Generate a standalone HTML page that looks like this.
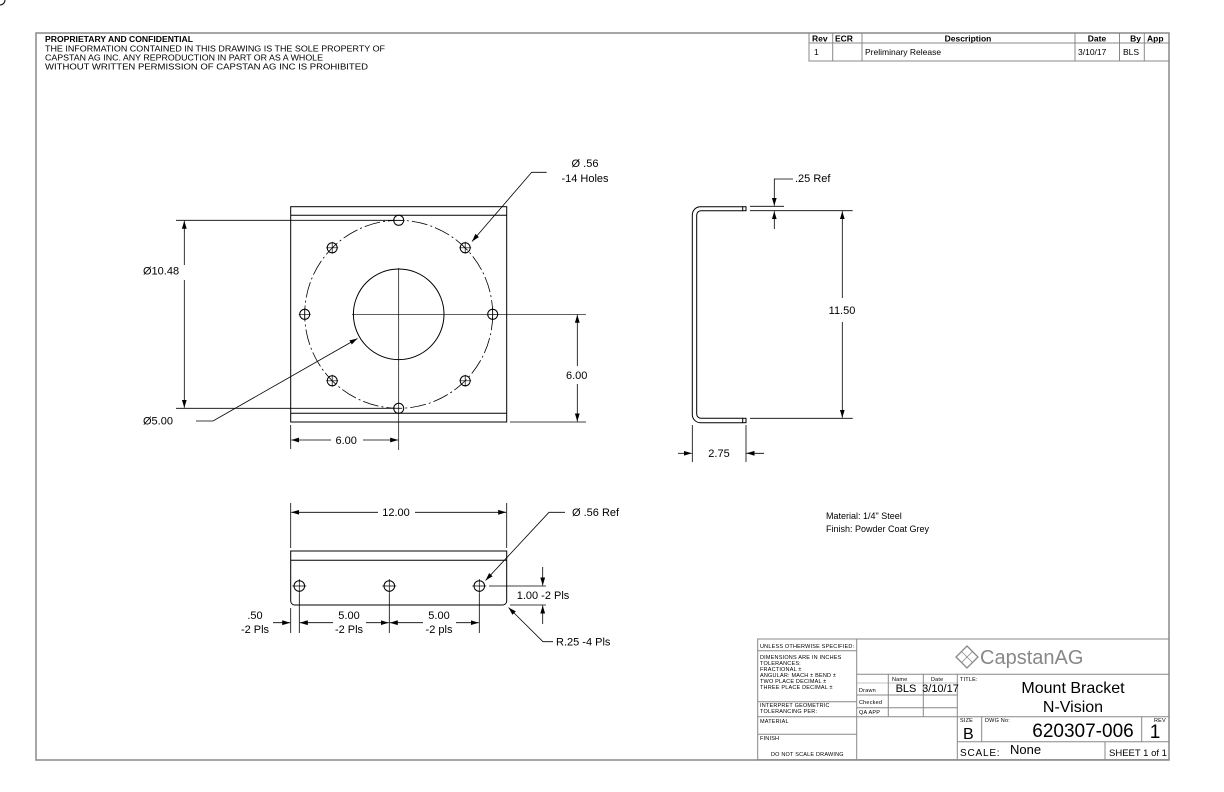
<!DOCTYPE html>
<html><head><meta charset="utf-8"><style>
html,body{margin:0;padding:0;background:#fff;}
svg{display:block;font-family:"Liberation Sans",sans-serif;}
.t{font-size:11px;fill:#000;}
.s{font-size:5.5px;fill:#000;letter-spacing:0.2px;}
</style></head><body>
<svg width="1224" height="792" viewBox="0 0 1224 792" xmlns="http://www.w3.org/2000/svg">
<defs>
<marker id="a" markerUnits="userSpaceOnUse" markerWidth="9" markerHeight="6" refX="8" refY="3" orient="auto"><path d="M0,0.6 L8,3 L0,5.4z" fill="#000"/></marker>
</defs>
<!-- frame -->
<rect x="36" y="33" width="1133" height="727" fill="none" stroke="#888" stroke-width="1.5"/>

<!-- proprietary text -->
<g font-size="8.6px" fill="#000">
<text x="45" y="42" font-weight="bold">PROPRIETARY AND CONFIDENTIAL</text>
<text x="45" y="51.5" textLength="340" lengthAdjust="spacingAndGlyphs">THE INFORMATION CONTAINED IN THIS DRAWING IS THE SOLE PROPERTY OF</text>
<text x="45" y="60.5" textLength="278" lengthAdjust="spacingAndGlyphs">CAPSTAN AG INC. ANY REPRODUCTION IN PART OR AS A WHOLE</text>
<text x="45" y="69.5" textLength="323" lengthAdjust="spacingAndGlyphs">WITHOUT WRITTEN PERMISSION OF CAPSTAN AG INC IS PROHIBITED</text>
</g>

<!-- revision table -->
<g stroke="#888" stroke-width="1" fill="none">
<rect x="809" y="33" width="360" height="28"/>
<line x1="809" y1="43" x2="1169" y2="43"/>
<line x1="832.7" y1="33" x2="832.7" y2="61"/>
<line x1="862" y1="33" x2="862" y2="61"/>
<line x1="1075" y1="33" x2="1075" y2="61"/>
<line x1="1119.5" y1="33" x2="1119.5" y2="61"/>
<line x1="1144.3" y1="33" x2="1144.3" y2="61"/>
</g>
<g font-size="8.5px" fill="#000">
<text x="812" y="41.5" font-weight="bold">Rev</text>
<text x="835" y="41.5" font-weight="bold">ECR</text>
<text x="968" y="41.5" font-weight="bold" text-anchor="middle">Description</text>
<text x="1097" y="41.5" font-weight="bold" text-anchor="middle">Date</text>
<text x="1141" y="41.5" font-weight="bold" text-anchor="end">By</text>
<text x="1147" y="41.5" font-weight="bold">App</text>
<text x="814" y="55">1</text>
<text x="865" y="55">Preliminary Release</text>
<text x="1078" y="55">3/10/17</text>
<text x="1123" y="55">BLS</text>
</g>

<!-- FRONT VIEW -->
<g stroke="#000" stroke-width="1" fill="none">
<rect x="290.7" y="206.7" width="216" height="215.3"/>
<line x1="290.7" y1="215.3" x2="506.7" y2="215.3"/>
<line x1="290.7" y1="413.3" x2="506.7" y2="413.3"/>
<circle cx="398.7" cy="314.3" r="94" stroke-dasharray="16 3 2 3" stroke-width="0.8"/>
<circle cx="398.7" cy="314.3" r="45.3"/>
<!-- holes -->
<g id="h">
<circle cx="0" cy="0" r="5"/>
</g>
<circle cx="398.7" cy="220.3" r="5"/><circle cx="398.7" cy="408.3" r="5"/>
<circle cx="304.7" cy="314.3" r="5"/><circle cx="492.7" cy="314.3" r="5"/>
<circle cx="465.2" cy="247.8" r="5"/><circle cx="332.2" cy="247.8" r="5"/>
<circle cx="465.2" cy="380.8" r="5"/><circle cx="332.2" cy="380.8" r="5"/>
<g stroke-width="0.7">
<path d="M326.2,247.8h12M332.2,241.8v12M459.2,247.8h12M465.2,241.8v12M326.2,380.8h12M332.2,374.8v12M459.2,380.8h12M465.2,374.8v12M298.7,314.3h12M304.7,308.3v12M486.7,314.3h12M492.7,308.3v12M392.7,220.3h12"/>
</g>
<!-- centerlines -->
<line x1="398.7" y1="268" x2="398.7" y2="450" stroke-width="0.7"/>
<line x1="352" y1="314.3" x2="586" y2="314.3" stroke-width="0.7"/>
<!-- dims -->
<line x1="176" y1="220.3" x2="395" y2="220.3" stroke-width="0.8"/>
<line x1="176" y1="408.3" x2="395" y2="408.3" stroke-width="0.8"/>
<line x1="184.3" y1="265" x2="184.3" y2="220.8" marker-end="url(#a)" stroke-width="0.8"/>
<line x1="184.3" y1="280" x2="184.3" y2="407.8" marker-end="url(#a)" stroke-width="0.8"/>
<line x1="510" y1="422" x2="586" y2="422" stroke-width="0.8"/>
<line x1="577.3" y1="366" x2="577.3" y2="314.8" marker-end="url(#a)" stroke-width="0.8"/>
<line x1="577.3" y1="384" x2="577.3" y2="421.5" marker-end="url(#a)" stroke-width="0.8"/>
<line x1="290.7" y1="425" x2="290.7" y2="449" stroke-width="0.8"/>
<line x1="331" y1="440" x2="291.2" y2="440" marker-end="url(#a)" stroke-width="0.8"/>
<line x1="363" y1="440" x2="398.2" y2="440" marker-end="url(#a)" stroke-width="0.8"/>
<polyline points="196,421 213,421 357.5,338.5" marker-end="url(#a)" stroke-width="0.8"/>
<polyline points="546.7,172.3 531.7,172.3 472,241.5" marker-end="url(#a)" stroke-width="0.8"/>
</g>
<text class="t" x="143" y="274.5">Ø10.48</text>
<text class="t" x="566" y="379">6.00</text>
<text class="t" x="335.5" y="444">6.00</text>
<text class="t" x="143" y="424.5">Ø5.00</text>
<text class="t" x="585" y="167" text-anchor="middle">Ø .56</text>
<text class="t" x="585" y="182" text-anchor="middle">-14 Holes</text>

<!-- SIDE VIEW -->
<g stroke="#000" stroke-width="1" fill="none">
<path d="M742.7,206.7 H700.5 A8.2,8.2 0 0 0 692.3,214.9 V414.5 A8.2,8.2 0 0 0 700.5,422.7 H742.7"/>
<path d="M742.7,210.7 H701 A4.3,4.3 0 0 0 696.7,215 V414 A4.3,4.3 0 0 0 701,418.3 H742.7"/>
<rect x="742.7" y="206.7" width="3.3" height="4"/>
<rect x="742.7" y="418.3" width="3.3" height="4.4"/>
<g stroke-width="0.8">
<line x1="750" y1="206.3" x2="784" y2="206.3"/>
<line x1="750" y1="210.7" x2="852.7" y2="210.7"/>
<line x1="750" y1="418.3" x2="852.7" y2="418.3"/>
<line x1="842.3" y1="298" x2="842.3" y2="211.2" marker-end="url(#a)"/>
<line x1="842.3" y1="322" x2="842.3" y2="417.8" marker-end="url(#a)"/>
<polyline points="793,179 774.3,179 774.3,205.8" marker-end="url(#a)"/>
<line x1="774.3" y1="229" x2="774.3" y2="211.2" marker-end="url(#a)"/>
<line x1="692.3" y1="425" x2="692.3" y2="462"/>
<line x1="746" y1="425" x2="746" y2="462"/>
<line x1="678" y1="453.3" x2="691.8" y2="453.3" marker-end="url(#a)"/>
<line x1="764" y1="453.3" x2="746.5" y2="453.3" marker-end="url(#a)"/>
</g>
</g>
<text class="t" x="795" y="182">.25 Ref</text>
<text class="t" x="842" y="314" text-anchor="middle">11.50</text>
<text class="t" x="719" y="457" text-anchor="middle">2.75</text>

<!-- BOTTOM VIEW -->
<g stroke="#000" stroke-width="1" fill="none">
<path d="M290.7,551 H506.7 V601 A4,4 0 0 1 502.7,605 H294.7 A4,4 0 0 1 290.7,601 Z"/>
<line x1="290.7" y1="560.3" x2="506.7" y2="560.3"/>
<circle cx="299.3" cy="586" r="5.3"/><circle cx="389.3" cy="586" r="5.3"/><circle cx="479.3" cy="586" r="5.3"/>
<g stroke-width="0.7">
<path d="M292.3,586h14M299.3,579v14M382.3,586h14M389.3,579v14M472.3,586h14M479.3,579v14"/>
</g>
<g stroke-width="0.8">
<line x1="290.7" y1="503" x2="290.7" y2="548"/>
<line x1="506.7" y1="503" x2="506.7" y2="548"/>
<line x1="378" y1="512.3" x2="291.2" y2="512.3" marker-end="url(#a)"/>
<line x1="415" y1="512.3" x2="506.2" y2="512.3" marker-end="url(#a)"/>
<polyline points="565,512.3 549,512.3 485.5,580.5" marker-end="url(#a)"/>
<line x1="489" y1="586" x2="546" y2="586"/>
<line x1="510" y1="605" x2="546" y2="605"/>
<line x1="542.7" y1="567" x2="542.7" y2="585.5" marker-end="url(#a)"/>
<line x1="542.7" y1="624" x2="542.7" y2="605.5" marker-end="url(#a)"/>
<polyline points="553,641.7 543,641.7 508.5,607.5" marker-end="url(#a)"/>
<line x1="290.7" y1="608" x2="290.7" y2="633"/>
<line x1="299.3" y1="593" x2="299.3" y2="633"/>
<line x1="389.3" y1="593" x2="389.3" y2="633"/>
<line x1="479.3" y1="593" x2="479.3" y2="633"/>
<line x1="273" y1="622.7" x2="290.2" y2="622.7" marker-end="url(#a)"/>
<line x1="333" y1="622.7" x2="299.8" y2="622.7" marker-end="url(#a)"/>
<line x1="366" y1="622.7" x2="388.8" y2="622.7" marker-end="url(#a)"/>
<line x1="423" y1="622.7" x2="389.8" y2="622.7" marker-end="url(#a)"/>
<line x1="456" y1="622.7" x2="478.8" y2="622.7" marker-end="url(#a)"/>
</g>
</g>
<text class="t" x="396" y="516" text-anchor="middle">12.00</text>
<text class="t" x="572" y="516">Ø .56 Ref</text>
<text class="t" x="543" y="599" text-anchor="middle">1.00 -2 Pls</text>
<text class="t" x="556" y="645.5">R.25 -4 Pls</text>
<text class="t" x="255" y="619" text-anchor="middle">.50</text>
<text class="t" x="255" y="633" text-anchor="middle">-2 Pls</text>
<text class="t" x="349" y="619" text-anchor="middle">5.00</text>
<text class="t" x="349" y="633" text-anchor="middle">-2 Pls</text>
<text class="t" x="439" y="619" text-anchor="middle">5.00</text>
<text class="t" x="439" y="633" text-anchor="middle">-2 pls</text>

<text x="826" y="519" font-size="9px">Material: 1/4" Steel</text>
<text x="826" y="532" font-size="9px">Finish: Powder Coat Grey</text>

<!-- TITLE BLOCK -->
<g stroke="#888" stroke-width="1" fill="none">
<rect x="757.7" y="639" width="411.3" height="120.7"/>
<line x1="856.7" y1="639" x2="856.7" y2="759.7"/>
<line x1="957.3" y1="674.3" x2="957.3" y2="759.7"/>
<line x1="856.7" y1="674.3" x2="1169" y2="674.3"/>
<line x1="757.7" y1="650.7" x2="856.7" y2="650.7"/>
<line x1="757.7" y1="701.7" x2="856.7" y2="701.7"/>
<line x1="757.7" y1="716.7" x2="1169" y2="716.7"/>
<line x1="757.7" y1="734.3" x2="856.7" y2="734.3"/>
<line x1="888.3" y1="674.3" x2="888.3" y2="716.7"/>
<line x1="923.3" y1="674.3" x2="923.3" y2="716.7"/>
<line x1="856.7" y1="683" x2="957.3" y2="683" stroke-width="0.5"/>
<line x1="856.7" y1="695" x2="957.3" y2="695"/>
<line x1="856.7" y1="707.7" x2="957.3" y2="707.7"/>
<line x1="981.7" y1="716.7" x2="981.7" y2="741.7"/>
<line x1="1141.7" y1="716.7" x2="1141.7" y2="741.7"/>
<line x1="957.3" y1="741.7" x2="1169" y2="741.7"/>
<line x1="1105" y1="741.7" x2="1105" y2="759.7"/>
</g>
<g class="s">
<text class="s" x="760" y="648">UNLESS OTHERWISE SPECIFIED:</text>
<text class="s" x="760" y="659">DIMENSIONS ARE IN INCHES</text>
<text class="s" x="760" y="665">TOLERANCES:</text>
<text class="s" x="760" y="671">FRACTIONAL ±</text>
<text class="s" x="760" y="677">ANGULAR: MACH ±    BEND ±</text>
<text class="s" x="760" y="683">TWO PLACE DECIMAL    ±</text>
<text class="s" x="760" y="689">THREE PLACE DECIMAL  ±</text>
<text class="s" x="760" y="707">INTERPRET GEOMETRIC</text>
<text class="s" x="760" y="713">TOLERANCING PER:</text>
<text class="s" x="760" y="723">MATERIAL</text>
<text class="s" x="760" y="740">FINISH</text>
<text class="s" x="771" y="756">DO NOT SCALE DRAWING</text>
<text class="s" x="892" y="681">Name</text>
<text class="s" x="931" y="681">Date</text>
<text class="s" x="859" y="692">Drawn</text>
<text class="s" x="859" y="704">Checked</text>
<text class="s" x="859" y="714">QA APP</text>
<text class="s" x="960" y="681">TITLE:</text>
<text class="s" x="960" y="722">SIZE</text>
<text class="s" x="985" y="722">DWG No:</text>
<text class="s" x="1154" y="722">REV</text>
</g>
<text x="906" y="692" font-size="11px" text-anchor="middle">BLS</text>
<text x="940.5" y="692" font-size="11px" text-anchor="middle">3/10/17</text>
<text x="1073" y="693" font-size="16px" text-anchor="middle">Mount Bracket</text>
<text x="1073" y="712" font-size="16px" text-anchor="middle">N-Vision</text>
<text x="1083" y="737" font-size="19px" text-anchor="middle">620307-006</text>
<text x="963" y="739" font-size="16px">B</text>
<text x="1155" y="738" font-size="19px" text-anchor="middle">1</text>
<text x="960" y="756" font-size="10px" letter-spacing="0.8">SCALE:</text>
<text x="1010" y="754" font-size="13px">None</text>
<text x="1109" y="756" font-size="9.5px">SHEET 1 of 1</text>
<!-- logo -->
<g fill="none" stroke="#888" stroke-width="1.3">
<path d="M967,646 L978,657 L967,668 L956,657 Z"/>
<path d="M961.5,651.5 L972.5,662.5 M967,646 L967,646 M972.5,651.5 L961.5,662.5" stroke-width="0.8"/>
</g>
<text x="980" y="664" font-size="20px" fill="#888">CapstanAG</text>
</svg>
</body></html>
